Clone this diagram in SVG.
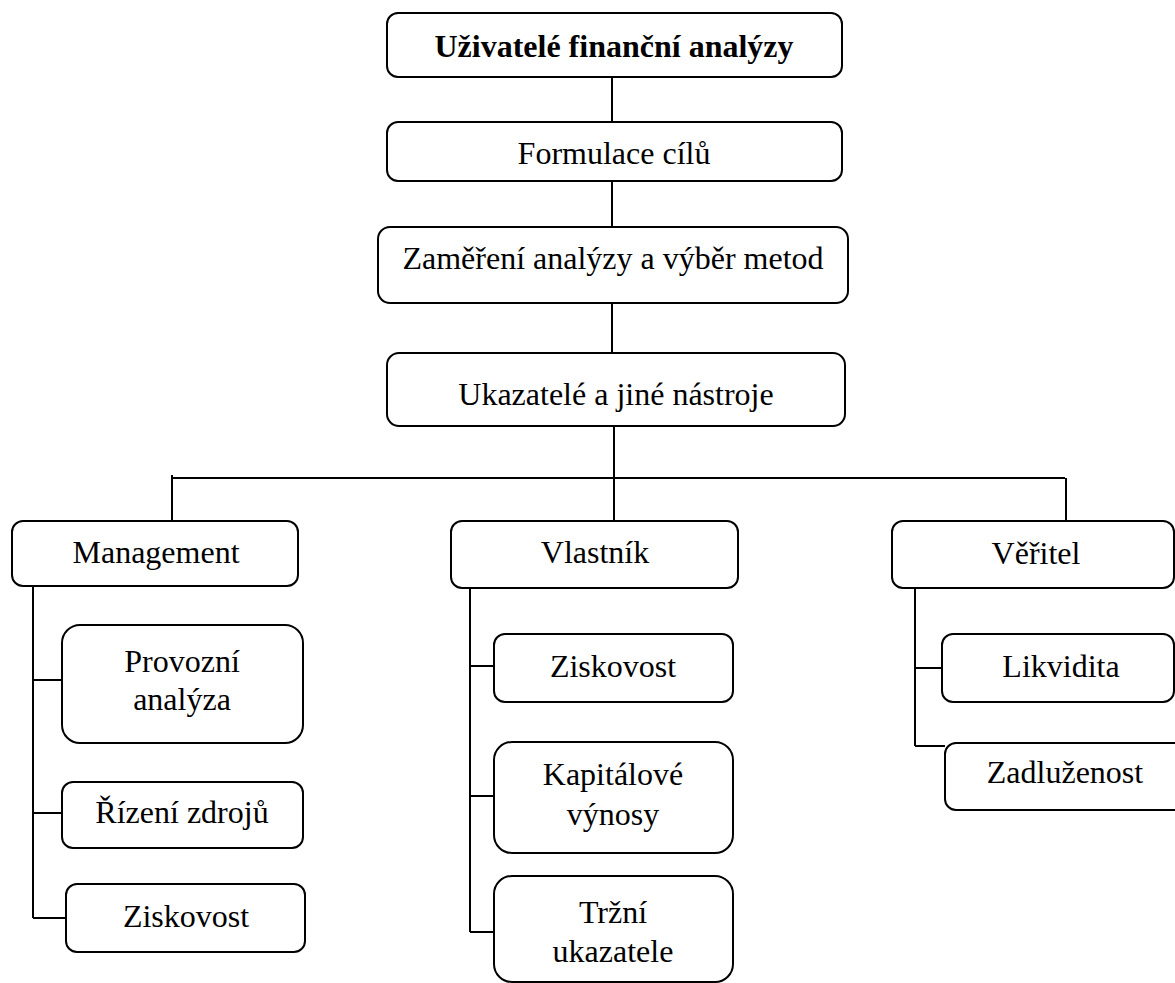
<svg xmlns="http://www.w3.org/2000/svg" width="1175" height="983" viewBox="0 0 1175 983">
<style>
.box{fill:#fff;stroke:#000;stroke-width:2}
.t{font-family:"Liberation Serif","Times New Roman",serif;font-size:32px;fill:#000;text-anchor:middle}
.b{font-weight:bold}
.c{fill:none;stroke:#000;stroke-width:2}
</style>
<rect width="1175" height="983" fill="#fff"/>
<g id="connectors">
<path class="c" d="M612 77V122M612 181V227M612 303V353M614 426V521M172 478H1065M172 475V521M1066 478V521"/>
<path class="c" d="M33 586V918M33 680H62M33 813H62M33 918H66"/>
<path class="c" d="M470 588V932M470 666H494M470 796H494M470 932H494"/>
<path class="c" d="M915 588V746M915 668H942M915 746H945"/>
</g>
<g id="n-uzivatele"><rect class="box" x="387" y="13" width="455" height="64" rx="11"/><text class="t b" x="614" y="57">Uživatelé finanční analýzy</text></g>
<g id="n-formulace"><rect class="box" x="387" y="122" width="455" height="59" rx="11"/><text class="t" x="614" y="164">Formulace cílů</text></g>
<g id="n-zamereni"><rect class="box" x="378" y="227" width="470" height="76" rx="12"/><text class="t" x="613" y="269">Zaměření analýzy a výběr metod</text></g>
<g id="n-ukazatele"><rect class="box" x="387" y="353" width="458" height="73" rx="12"/><text class="t" x="616" y="405">Ukazatelé a jiné nástroje</text></g>
<g id="n-management"><rect class="box" x="12" y="521" width="286" height="65" rx="11"/><text class="t" x="156" y="563">Management</text></g>
<g id="n-provozni"><rect class="box" x="62" y="625" width="241" height="118" rx="18"/><text class="t" x="182" y="672">Provozní</text><text class="t" x="182" y="710">analýza</text></g>
<g id="n-rizeni"><rect class="box" x="62" y="782" width="241" height="66" rx="11"/><text class="t" x="182" y="823">Řízení zdrojů</text></g>
<g id="n-ziskovost-m"><rect class="box" x="66" y="884" width="239" height="68" rx="11"/><text class="t" x="186" y="927">Ziskovost</text></g>
<g id="n-vlastnik"><rect class="box" x="451" y="521" width="287" height="67" rx="11"/><text class="t" x="595" y="563">Vlastník</text></g>
<g id="n-ziskovost-v"><rect class="box" x="494" y="634" width="239" height="68" rx="11"/><text class="t" x="613" y="677">Ziskovost</text></g>
<g id="n-kapitalove"><rect class="box" x="494" y="742" width="239" height="111" rx="18"/><text class="t" x="613" y="785">Kapitálové</text><text class="t" x="613" y="825">výnosy</text></g>
<g id="n-trzni"><rect class="box" x="494" y="876" width="239" height="106" rx="18"/><text class="t" x="613" y="923">Tržní</text><text class="t" x="613" y="962">ukazatele</text></g>
<g id="n-veritel"><rect class="box" x="892" y="521" width="282" height="67" rx="11"/><text class="t" x="1036" y="564">Věřitel</text></g>
<g id="n-likvidita"><rect class="box" x="942" y="634" width="232" height="68" rx="11"/><text class="t" x="1061" y="677">Likvidita</text></g>
<g id="n-zadluzenost"><rect class="box" x="945" y="743" width="245" height="67" rx="11"/><text class="t" x="1065" y="783">Zadluženost</text></g>
</svg>
